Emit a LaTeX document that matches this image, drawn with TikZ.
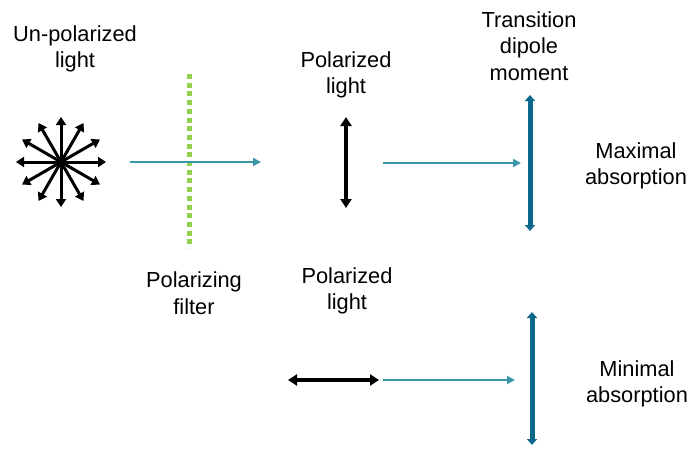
\documentclass[tikz,border=0pt]{standalone}
\usepackage{fontspec}
\setmainfont{Liberation Sans}
\usetikzlibrary{arrows.meta,calc}
\definecolor{beamc}{HTML}{3A97A8}
\definecolor{dipc}{HTML}{0B6A8C}
\definecolor{filtc}{HTML}{92D050}
\tikzset{
  lbl/.style={align=center, font=\fontsize{21.8}{26.5}\selectfont, inner sep=0pt},
  beam/.style={draw=beamc, line width=1.7pt, -{Triangle[length=8pt,width=8pt]}},
  pol/.style={draw=black, line width=3.4pt, {Triangle[length=9pt,width=11pt]}-{Triangle[length=9pt,width=11pt]}},
  star/.style={draw=black, line width=3pt, -{Triangle[length=8pt,width=10pt]}},
  dip/.style={draw=dipc, line width=5pt, {Triangle[length=6pt,width=10pt]}-{Triangle[length=6pt,width=10pt]}},
  filt/.style={draw=filtc, line width=5pt, dash pattern=on 5pt off 3.7pt}
}
\begin{document}
\begin{tikzpicture}[x=1pt,y=-1pt]
\useasboundingbox (0,0) rectangle (697,458);
% labels
\node[lbl] (tunpol) at (75,49) {Un-polarized\\light};
\node[lbl] (tdip) at (529,46) {Transition\\dipole\\moment};
\node[lbl] (tpol1) at (346,75) {Polarized\\light};
\node[lbl] (tmax) at (636,166) {Maximal\\absorption};
\node[lbl] (tfilt) at (194,293) {Polarizing\\filter};
\node[lbl] (tpol2) at (347,291) {Polarized\\light};
\node[lbl] (tmin) at (637,384) {Minimal\\absorption};
% unpolarized star
\coordinate (sc) at (61,162);
\foreach \i in {0,...,11}{
  \coordinate (s\i) at ($(sc)+({30*\i}:45)$);
}
\foreach \i in {0,...,11}{
  \draw[star] (sc) -- (s\i);
}
% filter
\coordinate (f1) at (189,74);
\coordinate (f2) at (189,248);
\draw[filt] (f1) -- (f2);
% beam 1
\coordinate (b1s) at (130,162);
\coordinate (b1e) at (261,162);
\draw[beam] (b1s) -- (b1e);
% polarized vertical
\coordinate (p1a) at (346,117);
\coordinate (p1b) at (346,208);
\draw[pol] (p1a) -- (p1b);
% beam 2
\coordinate (b2s) at (383,163);
\coordinate (b2e) at (521,163);
\draw[beam] (b2s) -- (b2e);
% dipole top
\coordinate (d1a) at (530,95);
\coordinate (d1b) at (530,231);
\draw[dip] (d1a) -- (d1b);
% polarized horizontal
\coordinate (p2a) at (288,380);
\coordinate (p2b) at (379,380);
\draw[pol] (p2a) -- (p2b);
% beam 3
\coordinate (b3s) at (383,380);
\coordinate (b3e) at (515,380);
\draw[beam] (b3s) -- (b3e);
% dipole bottom
\coordinate (d2a) at (532,312);
\coordinate (d2b) at (532,445);
\draw[dip] (d2a) -- (d2b);
\end{tikzpicture}
\end{document}
